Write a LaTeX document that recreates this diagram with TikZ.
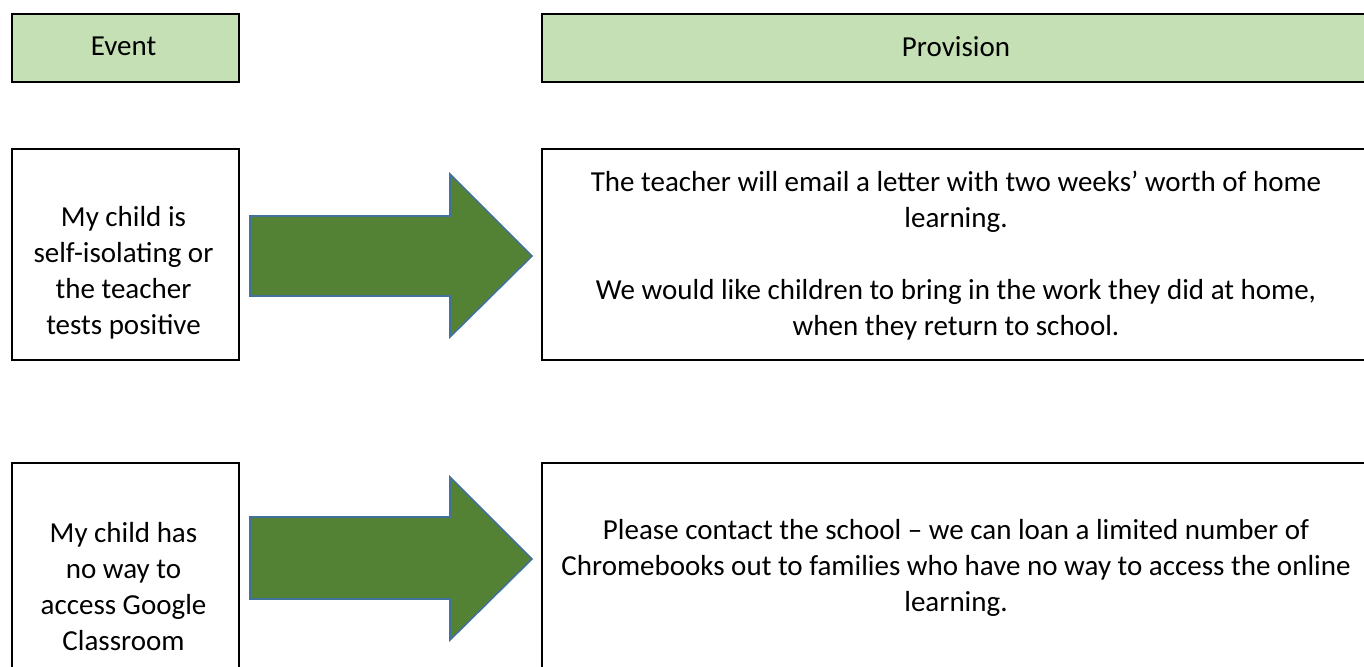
\documentclass[tikz,border=0pt]{standalone}
\usepackage{fontspec}
\setmainfont{Carlito}
\definecolor{hdr}{HTML}{C5E0B4}
\definecolor{arrowfill}{HTML}{548235}
\definecolor{arrowline}{HTML}{41719C}
\begin{document}
\begin{tikzpicture}[x=0.5pt,y=-0.5pt,
  box/.style={draw=black,line width=1pt,inner sep=0pt,anchor=north west},
  hdrbox/.style={box,fill=hdr},
  txt/.style={align=center,inner sep=0pt,font=\fontsize{14.5}{18}\selectfont},
  bigarrow/.style={fill=arrowfill,draw=arrowline,line width=0.8pt,line join=miter}]
\useasboundingbox (0,0) rectangle (1364,666);
\clip (0,0) rectangle (1364,666);
% headers
\node[hdrbox,minimum width=113.5pt,minimum height=34pt] (hevent) at (10.5,12.5) {};
\node[hdrbox,minimum width=417pt,minimum height=34pt] (hprov) at (541,12.5) {};
\node[txt] (tevent) at (123.5,46.5) {Event};
\node[txt] (tprov) at (956,46.5) {Provision};
% row 1
\node[box,minimum width=113.5pt,minimum height=105.5pt] (e1) at (10.5,147.5) {};
\node[box,minimum width=417pt,minimum height=105.5pt] (p1) at (541,147.5) {};
\node[txt] (te1) at (123.5,273) {My child is\\self-isolating or\\the teacher\\tests positive};
\node[txt] (tp1) at (956,255.5) {The teacher will email a letter with two weeks’ worth of home\\learning.\\[18pt]We would like children to bring in the work they did at home,\\when they return to school.};
\draw[bigarrow] (250,216) -- (450,216) -- (450,174) -- (532,256) -- (450,337) -- (450,296) -- (250,296) -- cycle;
% row 2
\node[box,minimum width=113.5pt,minimum height=110pt] (e2) at (10.5,461.5) {};
\node[box,minimum width=417pt,minimum height=110pt] (p2) at (541,461.5) {};
\node[txt] (te2) at (123.5,586.5) {My child has\\no way to\\access Google\\Classroom};
\node[txt] (tp2) at (956,567.5) {Please contact the school – we can loan a limited number of\\Chromebooks out to families who have no way to access the online\\learning.};
\draw[bigarrow] (250,517) -- (450,517) -- (450,477) -- (532,559) -- (450,640) -- (450,599) -- (250,599) -- cycle;
\end{tikzpicture}
\end{document}
